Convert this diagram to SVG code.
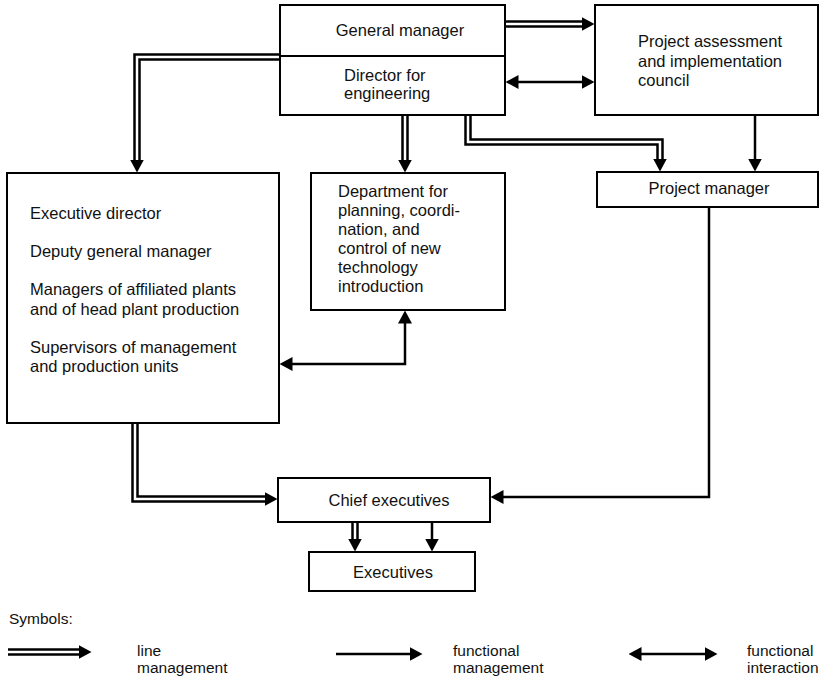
<svg xmlns="http://www.w3.org/2000/svg" width="830" height="679" viewBox="0 0 830 679">
  <style>
    .box { fill: #fff; stroke: #000; stroke-width: 2; }
    .t { font-family: "Liberation Sans", Arial, sans-serif; font-size: 16.5px; fill: #111; }
    .lg { font-family: "Liberation Sans", Arial, sans-serif; font-size: 15.5px; fill: #111; }
    .mid { text-anchor: middle; }
    .single { fill: none; stroke: #000; stroke-width: 2.5; }
    .dblOut { fill: none; stroke: #000; stroke-width: 7.5; stroke-linejoin: miter; }
    .dblIn { fill: none; stroke: #fff; stroke-width: 2.5; stroke-linejoin: miter; }
  </style>
  <defs>
    <marker id="head" markerUnits="userSpaceOnUse" viewBox="0 0 13 14" refX="0.5" refY="7" markerWidth="13" markerHeight="14" orient="auto-start-reverse">
      <path d="M0,0 L13,7 L0,14 Z" fill="#000"/>
    </marker>
  </defs>
  <rect width="830" height="679" fill="#fff"/>

  <!-- connectors -->
  <g id="connectors">
    <!-- line management (double lines) -->
    <path class="dblOut" d="M505,24 H582" marker-end="url(#head)"/>
    <path class="dblIn" d="M505,24 H582"/>
    <path class="dblOut" d="M280,57 H137 V160" marker-end="url(#head)"/>
    <path class="dblIn" d="M280,57 H137 V160"/>
    <path class="dblOut" d="M405,115 V160" marker-end="url(#head)"/>
    <path class="dblIn" d="M405,115 V160"/>
    <path class="dblOut" d="M468,115 V142 H660 V159" marker-end="url(#head)"/>
    <path class="dblIn" d="M468,115 V142 H660 V159"/>
    <path class="dblOut" d="M135,422 V499 H265" marker-end="url(#head)"/>
    <path class="dblIn" d="M135,422 V499 H265"/>
    <path class="dblOut" d="M355,522 V539" marker-end="url(#head)"/>
    <path class="dblIn" d="M355,522 V539"/>
    <!-- functional management -->
    <path class="single" d="M755,115 V159" marker-end="url(#head)"/>
    <path class="single" d="M709,207 V497 H503" marker-end="url(#head)"/>
    <path class="single" d="M432,522 V539" marker-end="url(#head)"/>
    <!-- functional interaction -->
    <path class="single" d="M518,82 H582" marker-start="url(#head)" marker-end="url(#head)"/>
    <path class="single" d="M405,323 V364 H292" marker-start="url(#head)" marker-end="url(#head)"/>
  </g>

  <!-- nodes -->
  <g id="general-manager">
    <rect class="box" x="280" y="5" width="225" height="51"/>
    <text class="t mid" x="400" y="36">General manager</text>
  </g>
  <g id="director-engineering">
    <rect class="box" x="280" y="56" width="225" height="59"/>
    <text class="t" x="344" y="81">Director for</text>
    <text class="t" x="344" y="99">engineering</text>
  </g>
  <g id="council">
    <rect class="box" x="595" y="5" width="223" height="110"/>
    <text class="t" x="638" y="47">Project assessment</text>
    <text class="t" x="638" y="67">and implementation</text>
    <text class="t" x="638" y="86">council</text>
  </g>
  <g id="project-manager">
    <rect class="box" x="597" y="172" width="221" height="35"/>
    <text class="t mid" x="709" y="194">Project manager</text>
  </g>
  <g id="executive-director">
    <rect class="box" x="7" y="173" width="272" height="250"/>
    <text class="t" x="30" y="219">Executive director</text>
    <text class="t" x="30" y="257">Deputy general manager</text>
    <text class="t" x="30" y="295">Managers of affiliated plants</text>
    <text class="t" x="30" y="315">and of head plant production</text>
    <text class="t" x="30" y="353">Supervisors of management</text>
    <text class="t" x="30" y="372">and production units</text>
  </g>
  <g id="planning-department">
    <rect class="box" x="311" y="173" width="194" height="137"/>
    <text class="t" x="338" y="197">Department for</text>
    <text class="t" x="338" y="216">planning, coordi-</text>
    <text class="t" x="338" y="235">nation, and</text>
    <text class="t" x="338" y="254">control of new</text>
    <text class="t" x="338" y="273">technology</text>
    <text class="t" x="338" y="292">introduction</text>
  </g>
  <g id="chief-executives">
    <rect class="box" x="278" y="478" width="212" height="44"/>
    <text class="t mid" x="389" y="506">Chief executives</text>
  </g>
  <g id="executives">
    <rect class="box" x="309" y="552" width="166" height="39"/>
    <text class="t mid" x="393" y="578">Executives</text>
  </g>

  <!-- key -->
  <g id="legend">
    <text class="lg" x="9" y="624">Symbols:</text>
    <path class="dblOut" d="M8,652 H79" marker-end="url(#head)"/>
    <path class="dblIn" d="M8,652 H79"/>
    <text class="lg" x="137" y="656">line</text>
    <text class="lg" x="137" y="673">management</text>
    <path class="single" d="M336,654 H410" marker-end="url(#head)"/>
    <text class="lg" x="453" y="656">functional</text>
    <text class="lg" x="453" y="673">management</text>
    <path class="single" d="M641,654 H705" marker-start="url(#head)" marker-end="url(#head)"/>
    <text class="lg" x="747" y="656">functional</text>
    <text class="lg" x="747" y="673">interaction</text>
  </g>
</svg>
